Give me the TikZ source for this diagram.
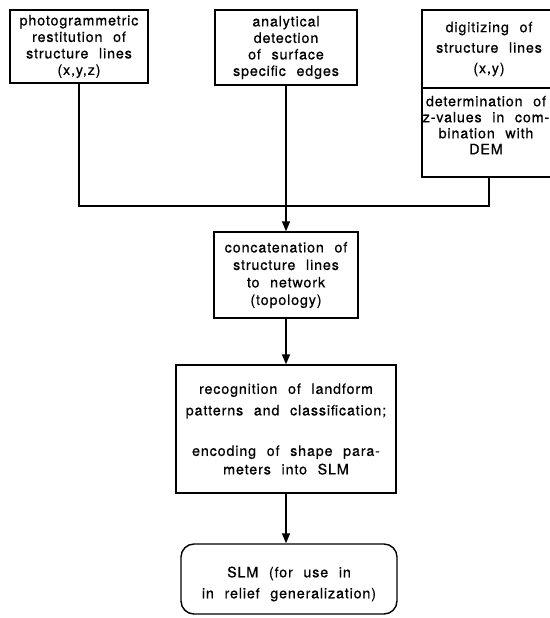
\documentclass[tikz,border=0pt]{standalone}
\usepackage{fontspec}
\setmainfont{TeX Gyre Heros}[LetterSpace=6, WordSpace=2.2, FakeBold=0.6]
\usetikzlibrary{arrows.meta}
\begin{document}
\begin{tikzpicture}[x=1pt,y=-1pt,
  box/.style={draw, line width=1.4pt, inner sep=0pt, align=center,
    font=\fontsize{14.3}{16.5}\selectfont},
  arr/.style={line width=1.4pt, -{Triangle[length=10pt,width=8pt]}},
  conn/.style={line width=1.4pt}]
\useasboundingbox (0,0) rectangle (549,618);
\node[box, minimum width=138, minimum height=73] (b1) at (79,46.5)
  {photogrammetric\\restitution of\\structure lines\\(x,y,z)};
\node[box, minimum width=142, minimum height=75] (b2) at (286,47.5)
  {analytical\\detection\\of surface\\specific edges};
\node[box, minimum width=134, minimum height=78,
  font=\fontsize{14.3}{20.5}\selectfont] (b3a) at (489,49)
  {digitizing of\\structure lines\\(x,y)};
\node[box, minimum width=134, minimum height=89] (b3b) at (489,132.5) {};
\node[align=center, inner sep=0pt, font=\fontsize{14.3}{16}\selectfont] (b3t) at (486,125)
  {determination of\\z-values in com-\\bination with\\DEM};
\node[box, minimum width=144, minimum height=86,
  font=\fontsize{14.3}{17.5}\selectfont] (b4) at (286,275)
  {concatenation of\\structure lines\\to network\\(topology)};
\node[box, minimum width=220, minimum height=128] (b5) at (286,429)
  {recognition of landform\\[5pt]patterns and classification;\\[24pt]encoding of shape para-\\[2pt]meters into SLM};
\node[box, rounded corners=13pt, minimum width=216, minimum height=70] (b6) at (289,579) {};
\node[align=center, inner sep=0pt, font=\fontsize{14.3}{21}\selectfont] (b6t) at (289,584)
  {SLM (for use in\\in relief generalization)};
\coordinate (jl) at (79,206);
\coordinate (jr) at (489,206);
\draw[conn] (b1.south) -- (jl) -- (jr) -- (b3b.south);
\draw[arr] (b2.south) -- (b4.north);
\draw[arr] (b4.south) -- (b5.north);
\draw[arr] (b5.south) -- (b5.south |- b6.north);
\end{tikzpicture}
\end{document}
